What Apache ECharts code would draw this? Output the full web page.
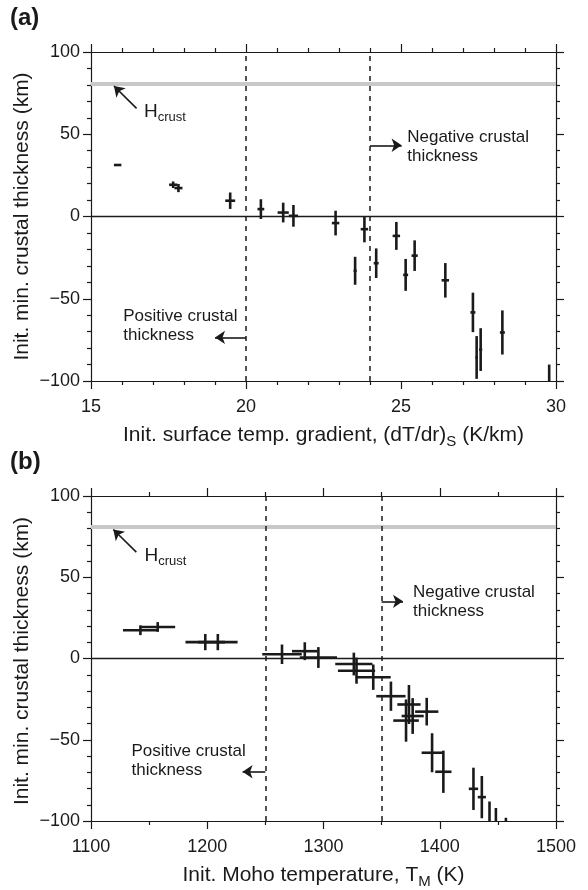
<!DOCTYPE html>
<html>
<head>
<meta charset="utf-8">
<script src="https://cdn.jsdelivr.net/npm/echarts@6/dist/echarts.min.js"></script>
<style>
  html, body { margin: 0; padding: 0; background: #fff; }
  #chart { width: 588px; height: 890px; }
</style>
</head>
<body>
<div id="chart"></div>
<script>
// panel (a): init. surface temp. gradient vs init. min. crustal thickness
var gradA     = [15.86, 17.65, 17.82, 19.49, 20.48, 21.2, 21.53, 22.89, 23.52, 23.82, 24.2, 24.85, 25.15, 25.44, 26.43, 27.32, 27.44, 27.57, 28.27, 29.78];
var thickA    = [31.3, 19.3, 17.3, 9.6, 4.5, 2.4, 0.4, -4.0, -33.0, -7.7, -28.4, -11.8, -35.5, -23.8, -38.8, -58.3, -85.7, -80.9, -70.5, -103];
var gradErrA  = [0.12, 0.13, 0.13, 0.16, 0.11, 0.18, 0.15, 0.12, 0.05, 0.12, 0.08, 0.12, 0.08, 0.1, 0.12, 0.08, 0.04, 0.05, 0.08, 0.05];
var thickErrA = [0.6, 2.0, 2.5, 5.0, 6.0, 6.0, 6.6, 7.5, 8.5, 8.0, 9.0, 8.5, 9.7, 9.3, 10.5, 12, 13, 13, 13.4, 13];

// panel (b): init. Moho temperature vs init. min. crustal thickness
var tempB     = [1142.5, 1157.4, 1198.3, 1209.1, 1264.3, 1283.9, 1295.6, 1326.1, 1328.4, 1342.8, 1358, 1373.5, 1376.7, 1371, 1388.8, 1393.4, 1403.1, 1429, 1436.2, 1442.8, 1448.3, 1456.9];
var thickB    = [17.4, 19.4, 10.1, 10.1, 2.6, 4.5, 0.6, -3.4, -7.5, -11.5, -23.2, -28.3, -35.4, -38.2, -32.7, -58, -69.7, -80.2, -85.3, -101, -105, -111];
var tempErrB  = [15, 15, 17, 17, 17, 11, 16, 16, 16, 15, 12.6, 10, 9.5, 11, 10, 9, 7, 4, 3.5, 3, 2.5, 2];
var thickErrB = [3, 3, 5, 5, 6, 5.5, 6.4, 7, 8, 7.8, 9, 12, 11, 13, 8.5, 12, 13, 13, 13, 13, 13, 13];

var hCrust = 81;
var boundsA = [20, 24];
var boundsB = [1250, 1350];

var font = 'Liberation Sans, Arial, Helvetica, sans-serif';
var ink = '#1a1a1a';

function zip(xs, ys, dxs, dys) {
    return xs.map(function (x, i) { return [x, ys[i], dxs[i], dys[i]]; });
}

function errorBars(params, api) {
    var x = api.value(0), y = api.value(1), dx = api.value(2), dy = api.value(3);
    var l = api.coord([x - dx, y]), r = api.coord([x + dx, y]);
    var t = api.coord([x, y + dy]), b = api.coord([x, y - dy]);
    var st = { stroke: ink, lineWidth: 2.6 };
    return {
        type: 'group',
        children: [
            { type: 'line', shape: { x1: l[0], y1: l[1], x2: r[0], y2: r[1] }, style: st },
            { type: 'line', shape: { x1: t[0], y1: t[1], x2: b[0], y2: b[1] }, style: st }
        ]
    };
}

var richSub = {
    h: { fontSize: 19, fontFamily: font, color: ink },
    s: { fontSize: 13, fontFamily: font, color: ink, padding: [11, 0, 0, 0] }
};

function notesRenderer(notes) {
    return function (params, api) {
        var n = notes[params.dataIndex];
        var p = api.coord([n.x, n.y]);
        return {
            type: 'text', x: p[0], y: p[1],
            style: {
                text: n.text, fill: ink, fontSize: 17, fontFamily: font,
                align: 'left', verticalAlign: n.va || 'top', lineHeight: 19,
                rich: richSub
            }
        };
    };
}

function axisBase(min, max, interval, minorSplit, labels, margin, extra) {
    var a = {
        type: 'value', min: min, max: max, interval: interval,
        axisLine: { show: true, onZero: false, lineStyle: { color: ink, width: 1.2 } },
        axisTick: { show: true, length: 8, lineStyle: { color: ink, width: 1.2 } },
        minorTick: { show: true, splitNumber: minorSplit, length: 4, lineStyle: { color: ink, width: 1.2 } },
        splitLine: { show: false },
        minorSplitLine: { show: false },
        axisLabel: {
            show: labels, color: ink, fontSize: 18, fontFamily: font, margin: margin,
            showMinLabel: true, showMaxLabel: true,
            formatter: function (v) { return String(v).replace('-', '\u2212'); }
        }
    };
    for (var k in extra) a[k] = extra[k];
    return a;
}

function refLines(bounds, hArrow, negArrow, posArrow) {
    var dash = { color: ink, width: 1.5, type: [5, 5] };
    var arrow = { color: ink, width: 1.6, type: 'solid' };
    function arr(p) {
        return [{ coord: p[0], symbol: 'none', lineStyle: arrow },
                { coord: p[1], symbol: 'arrow', symbolSize: 10, lineStyle: arrow }];
    }
    return {
        silent: true, animation: false, symbol: 'none',
        label: { show: false },
        data: [
            { yAxis: hCrust, lineStyle: { color: '#c8c8c8', width: 4, type: 'solid' } },
            { yAxis: 0, lineStyle: { color: ink, width: 1.3, type: 'solid' } },
            { xAxis: bounds[0], lineStyle: dash },
            { xAxis: bounds[1], lineStyle: dash },
            arr(hArrow), arr(negArrow), arr(posArrow)
        ]
    };
}

var notesA = [
    { x: 16.71, y: 63.8, text: '{h|H}{s|crust}', va: 'middle' },
    { x: 25.2, y: 53.8, text: 'Negative crustal\nthickness' },
    { x: 16.04, y: -55.2, text: 'Positive crustal\nthickness' }
];
var notesB = [
    { x: 1146, y: 63, text: '{h|H}{s|crust}', va: 'middle' },
    { x: 1377, y: 46.4, text: 'Negative crustal\nthickness' },
    { x: 1134.8, y: -51.2, text: 'Positive crustal\nthickness' }
];

var nameStyle = {
    fontSize: 21, fontFamily: font, color: ink,
    rich: { s: { fontSize: 15, fontFamily: font, color: ink, padding: [12, 0, 0, 0] } }
};
var yName = 'Init. min. crustal thickness (km)';
var panelStyle = { fontSize: 24, fontWeight: 'bold', fontFamily: font, color: ink };

function yTitle(cy) {
    return {
        type: 'text', x: 22, y: cy, rotation: Math.PI / 2,
        style: { text: yName, fontSize: 21, fontFamily: font, fill: ink, align: 'center', verticalAlign: 'middle' }
    };
}

var chart = echarts.init(document.getElementById('chart'));
var option = {
    animation: false,
    title: [
        { text: '(a)', left: 5, top: 1, textStyle: panelStyle },
        { text: '(b)', left: 5, top: 445, textStyle: panelStyle }
    ],
    graphic: [yTitle(216.5), yTitle(661)],
    grid: [
        { left: 91, right: 32, top: 52, height: 329 },
        { left: 91, right: 32, top: 496, height: 330 }
    ],
    xAxis: [
        axisBase(15, 30, 5, 5, true, 17, {
            gridIndex: 0, position: 'bottom',
            name: 'Init. surface temp. gradient, (dT/dr){s|S} (K/km)',
            nameLocation: 'middle', nameGap: 41, nameTextStyle: nameStyle
        }),
        axisBase(15, 30, 5, 5, false, 8, { gridIndex: 0, position: 'top' }),
        axisBase(1100, 1500, 100, 2, true, 17, {
            gridIndex: 1, position: 'bottom',
            name: 'Init. Moho temperature, T{s|M} (K)',
            nameLocation: 'middle', nameGap: 41, nameTextStyle: nameStyle
        }),
        axisBase(1100, 1500, 100, 2, false, 8, { gridIndex: 1, position: 'top' })
    ],
    yAxis: [
        axisBase(-100, 100, 50, 5, true, 11, { gridIndex: 0, position: 'left' }),
        axisBase(-100, 100, 50, 5, false, 8, { gridIndex: 0, position: 'right' }),
        axisBase(-100, 100, 50, 5, true, 11, { gridIndex: 1, position: 'left' }),
        axisBase(-100, 100, 50, 5, false, 8, { gridIndex: 1, position: 'right' })
    ],
    series: [
        {
            type: 'custom', xAxisIndex: 0, yAxisIndex: 0, clip: true,
            renderItem: errorBars,
            data: zip(gradA, thickA, gradErrA, thickErrA),
            markLine: refLines(boundsA,
                [[16.47, 65.7], [15.74, 79.3]],
                [[24, 43.3], [25.02, 43.3]],
                [[20, -73.5], [19.0, -73.5]]),
            z: 3
        },
        {
            type: 'custom', xAxisIndex: 0, yAxisIndex: 0, silent: true,
            renderItem: notesRenderer(notesA),
            data: notesA.map(function (n) { return [n.x, n.y]; })
        },
        {
            type: 'custom', xAxisIndex: 2, yAxisIndex: 2, clip: true,
            renderItem: errorBars,
            data: zip(tempB, thickB, tempErrB, thickErrB),
            markLine: refLines(boundsB,
                [[1139, 65.5], [1119.2, 79.4]],
                [[1350, 35.2], [1368.4, 35.2]],
                [[1250, -69.7], [1230.4, -69.7]]),
            z: 3
        },
        {
            type: 'custom', xAxisIndex: 2, yAxisIndex: 2, silent: true,
            renderItem: notesRenderer(notesB),
            data: notesB.map(function (n) { return [n.x, n.y]; })
        }
    ]
};
chart.setOption(option);

window.onresize = chart.resize;
</script>
</body>
</html>
